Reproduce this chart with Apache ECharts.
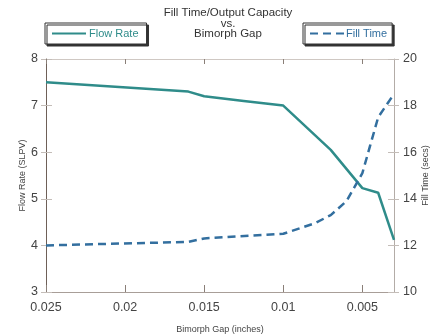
<!DOCTYPE html>
<html>
<head>
<meta charset="utf-8">
<script src="https://cdn.jsdelivr.net/npm/echarts@6/dist/echarts.min.js"></script>
<style>html,body{margin:0;padding:0;background:#fff}#c{width:435px;height:334px}</style>
</head>
<body>
<div id="c"></div>
<script>
var gapTicks = [0.025, 0.02, 0.015, 0.01, 0.005];
var flowGap = [0.025, 0.016, 0.015, 0.0125, 0.01, 0.007, 0.005, 0.004, 0.003];
var flowRate = [7.5, 7.3, 7.2, 7.1, 7.0, 6.05, 5.23, 5.13, 4.12];
var fillGap = [0.025, 0.016, 0.015, 0.01, 0.008, 0.007, 0.006, 0.005, 0.0045, 0.004, 0.003];
var fillTime = [12.0, 12.15, 12.3, 12.5, 12.95, 13.3, 13.9, 15.1, 16.3, 17.5, 18.5];

var FONT = 'Liberation Sans';
var teal = '#2f8c8a';
var blue = '#336f9f';
var tickGray = '#c4bdb8';

function pairs(xs, ys){ return xs.map(function(x,i){ return [x, ys[i]]; }); }
function fmt(v){ return String(+v.toFixed(4)); }

var xBase = {
  type: 'value', min: 0.003, max: 0.025, inverse: true, gridIndex: 0,
  splitLine: {show: false}
};

var legendBase = {
  orient: 'horizontal', top: 23,
  itemWidth: 34, itemHeight: 12, itemGap: 4,
  backgroundColor: '#fff',
  borderColor: '#333', borderWidth: 1,
  shadowColor: '#333', shadowOffsetX: 2, shadowOffsetY: 2, shadowBlur: 0,
  itemStyle: {opacity: 0},
  lineStyle: {width: 2}
};

var chart = echarts.init(document.getElementById('c'), null, {renderer: 'canvas'});
chart.setOption({
  animation: false,
  textStyle: {fontFamily: FONT},
  title: {
    text: 'Fill Time/Output Capacity\nvs.\nBimorph Gap',
    left: 228, top: 8, textAlign: 'center', padding: 0,
    textStyle: {fontFamily: FONT, fontSize: 11.5, fontWeight: 'normal', color: '#333', lineHeight: 10.5}
  },
  legend: [
    Object.assign({}, legendBase, {
      data: ['Flow Rate'], left: 45,
      padding: [5, 8, 5, 6],
      textStyle: {fontFamily: FONT, fontSize: 11, color: teal, padding: [0,0,0,-2]}
    }),
    Object.assign({}, legendBase, {
      data: ['Fill Time'], left: 303,
      padding: [5, 5, 5, 6],
      textStyle: {fontFamily: FONT, fontSize: 11, color: blue, padding: [0,0,0,-3]}
    })
  ],
  grid: {left: 46, right: 41, top: 59, bottom: 42, containLabel: false, outerBoundsMode: 'none'},
  xAxis: [
    Object.assign({}, xBase, {
      position: 'bottom',
      name: 'Bimorph Gap (inches)', nameLocation: 'middle', nameGap: 33,
      nameTextStyle: {fontFamily: FONT, fontSize: 9, color: '#444'},
      axisLine: {show: true, lineStyle: {color: '#a89e98', width: 1}},
      axisTick: {show: true, inside: true, length: 7, customValues: gapTicks, lineStyle: {color: '#8a7f78'}},
      axisLabel: {show: true, customValues: gapTicks, formatter: fmt, fontFamily: FONT, fontSize: 12.5, color: '#444', margin: 9}
    }),
    Object.assign({}, xBase, {
      position: 'top',
      axisLine: {show: true, lineStyle: {color: '#cfc8c3', width: 1}},
      axisTick: {show: true, inside: true, length: 5, customValues: gapTicks, lineStyle: {color: '#8a7f78'}},
      axisLabel: {show: false}
    })
  ],
  yAxis: [
    {
      type: 'value', min: 3, max: 8, interval: 1, position: 'left',
      name: 'Flow Rate (SLPV)', nameLocation: 'middle', nameGap: 19, nameRotate: 90,
      nameMoveOverlap: false,
      nameTextStyle: {fontFamily: FONT, fontSize: 9, color: '#444'},
      axisLine: {show: true, lineStyle: {color: '#6e6058', width: 1}},
      axisTick: {show: true, inside: false, length: 5, lineStyle: {color: tickGray}},
      axisLabel: {fontFamily: FONT, fontSize: 12.5, color: '#444', margin: 8},
      splitLine: {show: false}
    },
    {
      type: 'value', min: 10, max: 20, interval: 2, position: 'right',
      name: 'Fill Time (secs)', nameLocation: 'middle', nameGap: 27, nameRotate: 90,
      nameMoveOverlap: false,
      nameTextStyle: {fontFamily: FONT, fontSize: 9, color: '#444'},
      axisLine: {show: true, lineStyle: {color: '#b3aca7', width: 1}},
      axisTick: {show: true, inside: false, length: 5, lineStyle: {color: tickGray}},
      axisLabel: {fontFamily: FONT, fontSize: 12.5, color: '#444', margin: 9},
      splitLine: {show: false}
    },
    {
      type: 'value', min: 3, max: 8, interval: 1, position: 'left',
      axisLine: {show: false},
      axisTick: {show: true, inside: true, length: 6, lineStyle: {color: tickGray}},
      axisLabel: {show: false}, splitLine: {show: false}
    },
    {
      type: 'value', min: 10, max: 20, interval: 2, position: 'right',
      axisLine: {show: false},
      axisTick: {show: true, inside: true, length: 6, lineStyle: {color: tickGray}},
      axisLabel: {show: false}, splitLine: {show: false}
    }
  ],
  series: [
    {
      name: 'Flow Rate', type: 'line', xAxisIndex: 0, yAxisIndex: 0,
      data: pairs(flowGap, flowRate), symbol: 'none', smooth: false,
      lineStyle: {color: teal, width: 2.5}, itemStyle: {color: teal}
    },
    {
      name: 'Fill Time', type: 'line', xAxisIndex: 0, yAxisIndex: 1,
      data: pairs(fillGap, fillTime), symbol: 'none', smooth: false,
      lineStyle: {color: blue, width: 2.5, type: [8, 5]}, itemStyle: {color: blue}
    }
  ]
});
</script>
</body>
</html>
